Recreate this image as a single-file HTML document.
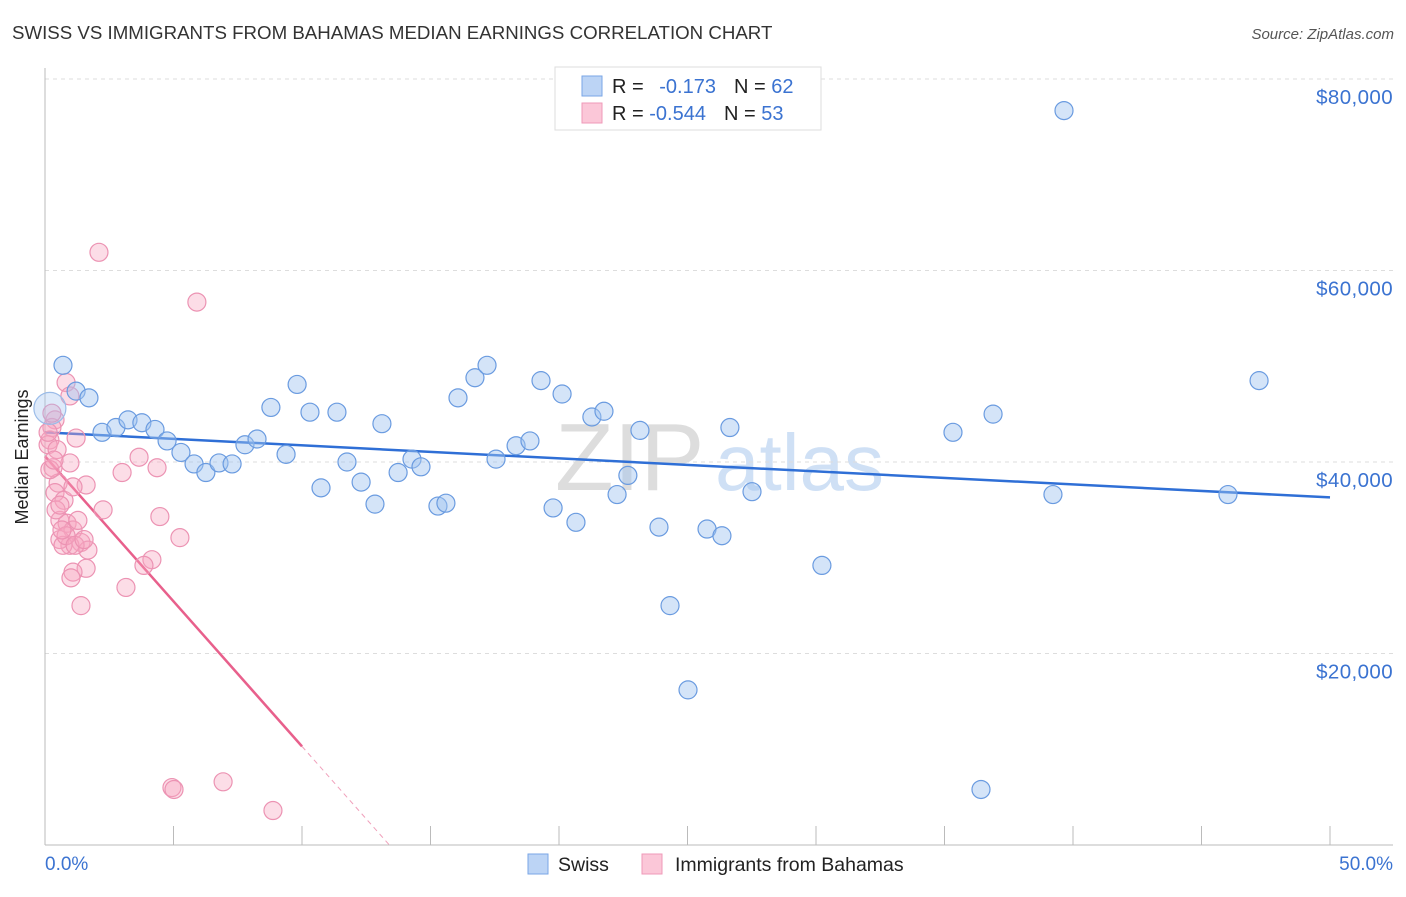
<!DOCTYPE html>
<html><head><meta charset="utf-8"><style>
body{margin:0;background:#fff;font-family:"Liberation Sans",sans-serif;}
svg text{font-family:"Liberation Sans",sans-serif;}
</style></head><body>
<svg width="1406" height="892" viewBox="0 0 1406 892">
<text x="12" y="39" font-size="18.7" fill="#333">SWISS VS IMMIGRANTS FROM BAHAMAS MEDIAN EARNINGS CORRELATION CHART</text>
<text x="1394" y="39" font-size="15" fill="#555" font-style="italic" text-anchor="end">Source: ZipAtlas.com</text>
<g>
<text x="555" y="490" font-size="96" fill="#ddd" font-family="Liberation Serif">ZIP</text>
<text x="715" y="490" font-size="80" fill="#cfe0f5">atlas</text>
</g>
<g id="grid"></g><g id="axes"></g><g id="lines"></g><g id="pts"></g>
<g>
<rect x="555" y="67" width="266" height="63" fill="#fff" stroke="#ddd"/>
<rect x="582" y="76" width="20" height="20" fill="#bcd4f5" stroke="#7aa6e6"/>
<rect x="582" y="103" width="20" height="20" fill="#fbc7d8" stroke="#ef9ab8"/>
<text x="612" y="93" font-size="20" fill="#222">R = <tspan fill="#3b73d1" dx="10">-0.173</tspan><tspan dx="18">N = </tspan><tspan fill="#3b73d1">62</tspan></text>
<text x="612" y="120" font-size="20" fill="#222">R = <tspan fill="#3b73d1">-0.544</tspan><tspan dx="18">N = </tspan><tspan fill="#3b73d1">53</tspan></text>
</g>
<text x="28" y="457" font-size="18" fill="#222" text-anchor="middle" transform="rotate(-90 28 457)">Median Earnings</text>
<text x="45" y="870" font-size="19" fill="#3b73d1">0.0%</text>
<text x="1393" y="870" font-size="19" fill="#3b73d1" text-anchor="end">50.0%</text>
<g>
<rect x="528" y="854" width="20" height="20" fill="#bcd4f5" stroke="#7aa6e6"/>
<text x="558" y="871" font-size="19.5" fill="#222">Swiss</text>
<rect x="642" y="854" width="20" height="20" fill="#fbc7d8" stroke="#ef9ab8"/>
<text x="675" y="871" font-size="19.5" fill="#222">Immigrants from Bahamas</text>
</g>
</svg>
<script>
const yTicks=[20000,40000,60000,80000];
const yTickLabels=["$20,000","$40,000","$60,000","$80,000"];
const swissX=[0.70,1.21,1.71,2.22,2.76,3.23,3.77,4.28,4.75,5.29,5.80,6.26,6.77,7.28,7.78,8.25,8.79,9.38,9.81,10.31,10.74,11.36,11.75,12.30,12.84,13.11,13.74,14.28,14.63,15.29,15.60,16.07,16.73,17.20,17.55,18.33,18.87,19.30,19.77,20.12,20.66,21.28,21.75,22.26,22.68,23.15,23.89,24.32,25.02,25.76,26.34,26.65,27.51,30.23,35.33,36.42,36.89,39.22,39.65,46.03,47.24,0.19];
const swissY=[50.1,47.4,46.7,43.1,43.6,44.4,44.1,43.4,42.2,41.0,39.8,38.9,39.9,39.8,41.8,42.4,45.7,40.8,48.1,45.2,37.3,45.2,40.0,37.9,35.6,44.0,38.9,40.3,39.5,35.4,35.7,46.7,48.8,50.1,40.3,41.7,42.2,48.5,35.2,47.1,33.7,44.7,45.3,36.6,38.6,43.3,33.2,25.0,16.2,33.0,32.3,43.6,36.9,29.2,43.1,5.8,45.0,36.6,76.7,36.6,48.5,45.6];
const bahX=[0.82,0.97,0.39,0.27,0.19,0.12,0.31,0.51,0.39,0.74,0.97,1.21,1.60,1.09,2.26,3.00,3.66,4.36,4.47,5.25,4.16,3.85,3.15,2.10,5.91,1.40,1.67,0.97,0.58,0.86,1.09,0.58,0.70,1.60,1.09,1.01,1.40,4.94,5.02,6.93,8.87,0.19,0.43,0.58,0.12,0.27,0.47,0.82,1.17,1.52,0.66,0.35,1.28];
const bahY=[48.3,46.9,44.4,43.6,42.3,41.8,39.4,37.8,36.8,36.0,39.9,42.5,37.6,37.4,35.0,38.9,40.5,39.4,34.3,32.1,29.8,29.2,26.9,61.9,56.7,31.6,30.8,31.3,33.9,33.6,32.9,31.9,31.3,28.9,28.5,27.9,25.0,6.0,5.8,6.6,3.6,39.2,35.0,35.5,43.1,45.1,41.3,32.3,31.3,31.9,32.9,40.2,33.9];
const swissTrend=[43.1,36.3];
const bahTrend=[40.6,10.3];
const NS="http://www.w3.org/2000/svg";
const X=p=>45+p*25.7;
const Y=v=>845-v*0.009575;
function mk(t,a,p){const e=document.createElementNS(NS,t);for(const k in a)e.setAttribute(k,a[k]);document.getElementById(p).appendChild(e);return e;}
yTicks.forEach((v,i)=>{
 const g=mk('line',{x1:45,x2:1393,y1:Y(v),y2:Y(v),stroke:'#ddd','stroke-dasharray':'4 4'},'grid');
 
 
 const t=mk('text',{x:1393,y:Y(v)+25,'font-size':20.5,fill:'#3b73d1','text-anchor':'end','letter-spacing':'0.4'},'grid');
 t.textContent=yTickLabels[i];
 
 
});
const ax=mk('line',{x1:45,x2:1393,y1:845,y2:845,stroke:'#bbb'},'axes');


const ay=mk('line',{x1:45,x2:45,y1:68,y2:845,stroke:'#bbb'},'axes');


for(let i=0;i<=10;i++){
 const t=mk('line',{x1:X(i*5),x2:X(i*5),y1:826,y2:845,stroke:'#bbb'},'axes');
 
 
}
const sl=mk('line',{x1:X(0),y1:Y(swissTrend[0]*1000),x2:X(50),y2:Y(swissTrend[1]*1000),stroke:'#2f6fd6','stroke-width':2.5},'lines');


const slope=(bahTrend[1]-bahTrend[0])/10;
const x0=-bahTrend[0]/slope;
const bl=mk('line',{x1:X(0),y1:Y(bahTrend[0]*1000),x2:X(10),y2:Y(bahTrend[1]*1000),stroke:'#e8608c','stroke-width':2.5},'lines');


const bd=mk('line',{x1:X(10),y1:Y(bahTrend[1]*1000),x2:X(x0),y2:Y(0),stroke:'#f0a0bb','stroke-width':1,'stroke-dasharray':'5 4'},'lines');


bahX.forEach((x,i)=>{
 const c=mk('circle',{cx:X(x),cy:Y(bahY[i]*1000),r:9,fill:'rgba(246,165,192,0.38)',stroke:'#ec93b3','stroke-width':1.2},'pts');
 
 
});
swissX.forEach((x,i)=>{
 const big=i===swissX.length-1;
 const c=mk('circle',{cx:X(x),cy:Y(swissY[i]*1000),r:big?16:9,fill:big?'rgba(160,195,240,0.35)':'rgba(160,195,240,0.45)',stroke:big?'#9bbce8':'#6a9be0','stroke-width':1.2},'pts');
 
 
});
</script>
</body></html>
